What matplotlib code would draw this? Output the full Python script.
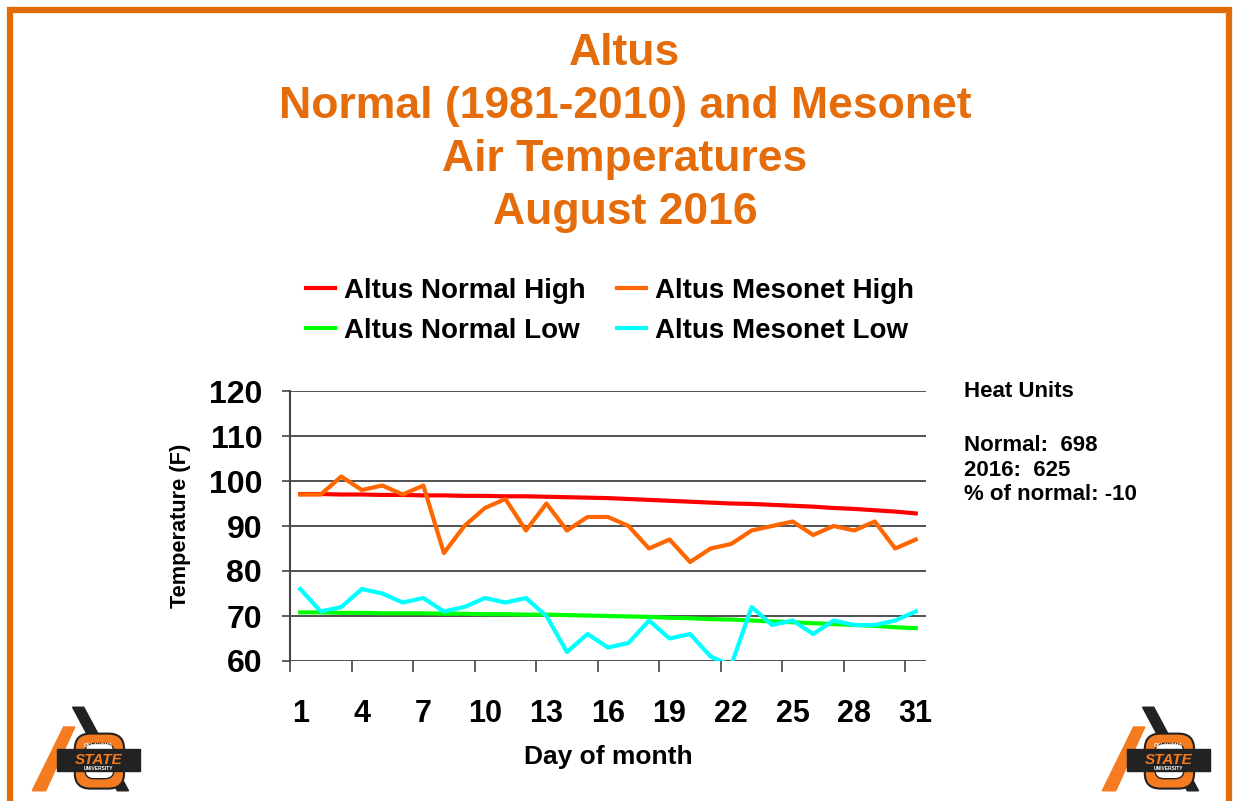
import matplotlib
matplotlib.use("Agg")
import matplotlib.pyplot as plt
from matplotlib.patches import Polygon, Rectangle, FancyBboxPatch

plt.rcParams['font.family'] = ['Liberation Sans', 'DejaVu Sans']

# Data (August 2016, Altus)
days = list(range(1, 32))
normal_high = [97.1, 97.1, 97.0, 97.0, 96.9, 96.9, 96.8, 96.8, 96.7, 96.7,
               96.6, 96.6, 96.5, 96.4, 96.3, 96.2, 96.0, 95.8, 95.6, 95.4,
               95.2, 95.0, 94.9, 94.7, 94.5, 94.3, 94.0, 93.8, 93.5, 93.2, 92.8]
mesonet_high = [97, 97, 101, 98, 99, 97, 99, 84, 90, 94,
                96, 89, 95, 89, 92, 92, 90, 85, 87, 82,
                85, 86, 89, 90, 91, 88, 90, 89, 91, 85, 87]
normal_low = [70.8, 70.8, 70.7, 70.7, 70.6, 70.6, 70.6, 70.5, 70.5, 70.4,
              70.4, 70.3, 70.3, 70.2, 70.1, 70.0, 69.9, 69.8, 69.6, 69.5,
              69.3, 69.2, 69.0, 68.8, 68.6, 68.4, 68.2, 68.0, 67.8, 67.5, 67.3]
mesonet_low = [76, 71, 72, 76, 75, 73, 74, 71, 72, 74,
               73, 74, 70, 62, 66, 63, 64, 69, 65, 66,
               61, 59, 72, 68, 69, 66, 69, 68, 68, 69, 71]
xtick_days = [1, 4, 7, 10, 13, 16, 19, 22, 25, 28, 31]
yticks = [60, 70, 80, 90, 100, 110, 120]

title_lines = "Altus\nNormal (1981-2010) and Mesonet\nAir Temperatures\nAugust 2016"
heat_text = "Normal:  698\n2016:  625\n% of normal: -10"

ORANGE = '#E46C0A'
W, H = 1233, 801

fig = plt.figure(figsize=(W / 100, H / 100), dpi=100)

# slide border
fig.add_artist(Rectangle((10 / W, -0.05), 1219 / W, 1.05 - 10 / H,
                         transform=fig.transFigure, fill=False,
                         edgecolor='#E36C09', linewidth=4.5))

# title
fig.text(625 / W, 1 - 133 / H, title_lines, ha='center', va='center',
         color=ORANGE, fontsize=32, fontweight='bold', linespacing=1.37)

ax = fig.add_axes([290 / W, 1 - 661 / H, 636 / W, 270 / H])
ax.plot(days, normal_high, color='#FF0000', lw=3, label='Altus Normal High')
ax.plot(days, normal_low, color='#00FF00', lw=3, label='Altus Normal Low')
ax.plot(days, mesonet_high, color='#FF6600', lw=3, label='Altus Mesonet High')
ax.plot(days, mesonet_low, color='#00FFFF', lw=3, label='Altus Mesonet Low')

ax.set_xlim(0.5, 31.5)
ax.set_ylim(60, 120)
ax.set_yticks(yticks)
ax.yaxis.grid(True, color='#333333', lw=1.2)
ax.set_axisbelow(True)
for s in ['top', 'right', 'bottom']:
    ax.spines[s].set_visible(False)
ax.spines['left'].set_color('#444444')
ax.spines['left'].set_linewidth(1.5)
ax.tick_params(axis='y', length=6, width=1.2, color='#444444', pad=14,
               labelsize=23)
for t in ax.get_yticklabels():
    t.set_fontweight('bold')

ax.set_xticks(xtick_days)
ax.set_xticklabels([str(d) for d in xtick_days], fontsize=22, fontweight='bold')
ax.set_xticks([d + 2.5 for d in [-2] + xtick_days[:-1]], minor=True)
ax.tick_params(axis='x', which='major', length=0, pad=27)
ax.tick_params(axis='x', which='minor', length=8, width=1.2, color='#444444')

ax.set_ylabel('Temperature (F)', fontsize=15.7, fontweight='bold', labelpad=13)
ax.set_xlabel('Day of month', fontsize=19, fontweight='bold', labelpad=12)

handles, labels = ax.get_legend_handles_labels()
fig.legend(handles, labels, ncol=2, loc='center',
           bbox_to_anchor=(610 / W, 1 - 311 / H), frameon=False,
           prop={'weight': 'bold', 'size': 20},
           handlelength=1.05, handletextpad=0.35, columnspacing=1.1,
           labelspacing=0.51)

fig.text(964 / W, 1 - 391 / H, 'Heat Units', ha='left', va='center',
         fontsize=16, fontweight='bold')
fig.text(964 / W, 1 - 470 / H, heat_text, ha='left', va='center',
         fontsize=16, fontweight='bold', linespacing=1.22)


def draw_logo(x0, y0, w, h):
    lax = fig.add_axes([x0 / W, 1 - (y0 + h) / H, w / W, h / H])
    lax.set_xlim(0, 100)
    lax.set_ylim(0, 80)
    lax.axis('off')
    lax.add_patch(Polygon([[38, 78], [48, 78], [88, 2], [78, 2]], color='#222222'))
    lax.add_patch(Polygon([[30, 60], [40, 60], [14, 2], [2, 2]], color='#F47B20'))
    lax.add_patch(FancyBboxPatch((42, 6), 40, 46, boxstyle='round,pad=2,rounding_size=14',
                                 facecolor='#F47B20', edgecolor='#222222', lw=1.5))
    lax.add_patch(FancyBboxPatch((50, 14), 24, 30, boxstyle='round,pad=1,rounding_size=8',
                                 facecolor='white', edgecolor='#222222', lw=1))
    lax.add_patch(Rectangle((24, 20), 74, 20, color='#222222'))
    lax.text(61, 30, 'STATE', ha='center', va='center', color='#F47B20',
             fontsize=11, fontweight='bold', style='italic')
    lax.text(61, 43, 'OKLAHOMA', ha='center', va='center', color='white',
             fontsize=3.5, fontweight='bold')
    lax.text(61, 22.5, 'UNIVERSITY', ha='center', va='center', color='white',
             fontsize=3.5, fontweight='bold')


draw_logo(30, 705, 112, 88)
draw_logo(1100, 705, 112, 88)

fig.savefig('out.png', dpi=100)
